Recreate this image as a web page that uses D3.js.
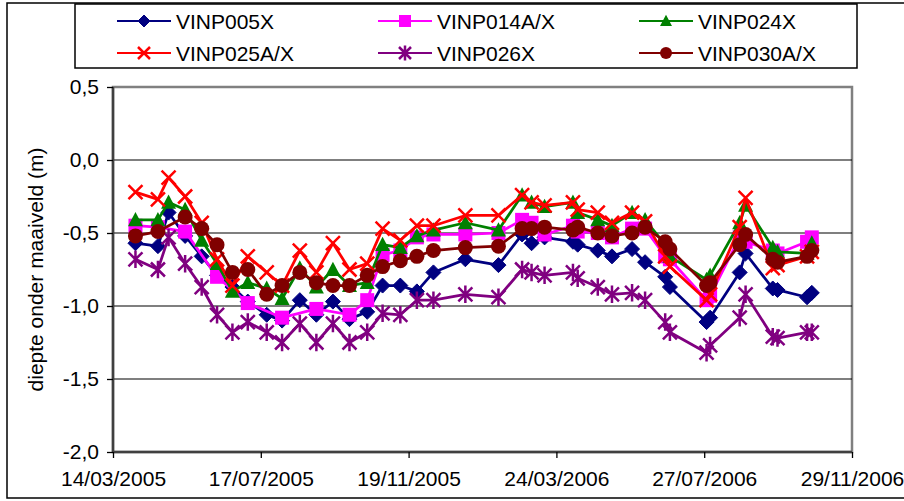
<!DOCTYPE html>
<html><head><meta charset="utf-8">
<script src="https://cdn.jsdelivr.net/npm/d3@7"></script>
<style>body{margin:0;background:#fff}svg{display:block}text{font-family:"Liberation Sans",Arial,sans-serif;fill:#000}</style>
</head><body><svg id="c" width="904" height="501"></svg>
<script>
// ---------- data ----------
const dates = ["2005-04-02","2005-04-21","2005-04-30","2005-05-14","2005-05-28","2005-06-10","2005-06-23","2005-07-06","2005-07-22","2005-08-04",
"2005-08-19","2005-09-02","2005-09-16","2005-09-30","2005-10-15","2005-10-28","2005-11-12","2005-11-26","2005-12-10","2006-01-06",
"2006-02-03","2006-02-23","2006-03-03","2006-03-14","2006-04-07","2006-04-11","2006-04-28","2006-05-10","2006-05-27","2006-06-07",
"2006-06-24","2006-06-28","2006-07-29","2006-08-01","2006-08-26","2006-08-31","2006-09-23","2006-09-27","2006-10-22","2006-10-26"];
const seriesNames = ["VINP005X","VINP014A/X","VINP024X","VINP025A/X","VINP026X","VINP030A/X"];
// null = not measured on that date
const vinp005x  = [-0.57,-0.59,-0.36,-0.52,-0.66,-0.79,-0.87,-0.97,-1.06,-1.10,-0.96,-1.06,-0.97,-1.09,-1.04,-0.86,-0.86,-0.90,-0.77,-0.68,-0.72,-0.51,-0.57,-0.53,-0.56,-0.58,-0.62,-0.66,-0.61,-0.70,-0.80,-0.87,-1.11,-1.08,-0.77,-0.64,-0.88,-0.89,-0.94,-0.91];
const vinp014ax = [-0.45,-0.46,null,-0.49,null,-0.80,null,-0.98,null,-1.08,null,-1.02,null,-1.06,-0.96,-0.65,-0.62,-0.53,-0.51,-0.51,-0.50,-0.41,-0.43,-0.51,-0.45,-0.49,-0.50,-0.53,-0.47,-0.47,-0.66,-0.68,-0.96,-0.93,-0.53,-0.56,-0.62,-0.64,-0.56,-0.53];
const vinp024x  = [-0.41,-0.41,-0.29,-0.34,-0.55,-0.71,-0.90,-0.84,-0.88,-0.95,-0.74,-0.87,-0.75,-0.86,-0.84,-0.58,-0.60,-0.52,-0.48,-0.43,-0.48,-0.24,-0.29,-0.32,-0.29,-0.36,-0.41,-0.45,-0.36,-0.41,-0.58,-0.66,-0.82,-0.79,-0.43,-0.31,-0.60,-0.63,-0.64,-0.57];
const vinp025ax = [-0.22,-0.27,-0.12,-0.25,-0.43,-0.68,-0.86,-0.66,-0.77,-0.86,-0.62,-0.77,-0.57,-0.75,-0.71,-0.47,-0.55,-0.45,-0.45,-0.38,-0.38,-0.24,-0.29,-0.31,-0.29,-0.34,-0.36,-0.43,-0.36,-0.42,-0.66,-0.73,-0.96,-0.92,-0.46,-0.26,-0.74,-0.72,-0.66,-0.63];
const vinp026x  = [-0.68,-0.75,-0.53,-0.71,-0.87,-1.06,-1.18,-1.11,-1.18,-1.25,-1.12,-1.25,-1.12,-1.25,-1.18,-1.05,-1.06,-0.96,-0.96,-0.92,-0.94,-0.75,-0.77,-0.79,-0.77,-0.81,-0.87,-0.92,-0.91,-0.96,-1.11,-1.18,-1.32,-1.27,-1.08,-0.92,-1.21,-1.22,-1.18,-1.18];
const vinp030ax = [-0.52,-0.49,null,-0.39,-0.47,-0.58,-0.77,-0.75,-0.92,-0.86,-0.77,-0.84,-0.86,-0.86,-0.79,-0.73,-0.69,-0.66,-0.62,-0.60,-0.59,-0.47,-0.47,-0.46,-0.48,-0.46,-0.50,-0.52,-0.50,-0.46,-0.56,-0.61,-0.86,-0.84,-0.58,-0.51,-0.68,-0.70,-0.66,-0.62];
const xTickLabels = ["14/03/2005","17/07/2005","19/11/2005","24/03/2006","27/07/2006","29/11/2006"];
const yTicks = [0.5,0.0,-0.5,-1.0,-1.5,-2.0];
const yTitle = "diepte onder maaiveld (m)";

// ---------- setup ----------
const colors = ["#000080","#FF00FF","#008000","#FF0000","#800080","#800000"];
const markers = ["diamond","square","triangle","x","star","circle"];
const values = [vinp005x,vinp014ax,vinp024x,vinp025ax,vinp026x,vinp030ax];
const parseISO = d3.utcParse("%Y-%m-%d");
const parseTick = d3.utcParse("%d/%m/%Y");
const tickDates = xTickLabels.map(parseTick);
const L = {left:113,right:852,top:87,bottom:452};
const x = d3.scaleUtc().domain([tickDates[0], tickDates[tickDates.length-1]]).range([L.left,L.right]);
const y = d3.scaleLinear().domain([-2,0.5]).range([L.bottom,L.top]);
const loc = d3.formatLocale({decimal:",",thousands:".",grouping:[3],currency:["€",""],minus:"-"});
const fmt = loc.format(".1f");

const svg = d3.select("#c");
const FS = 21;

// outer border
svg.append("rect").attr("x",7).attr("y",3).attr("width",920).attr("height",495)
  .attr("fill","none").attr("stroke","#000").attr("stroke-width",1.5);

// plot area border
svg.append("rect").attr("x",L.left).attr("y",L.top).attr("width",L.right-L.left).attr("height",L.bottom-L.top)
  .attr("fill","#fff").attr("stroke","#808080").attr("stroke-width",2.5);

// gridlines
svg.append("g").selectAll("line").data(yTicks.filter(v=>v<0.5 && v>-2)).join("line")
  .attr("x1",L.left).attr("x2",L.right).attr("y1",d=>y(d)).attr("y2",d=>y(d))
  .attr("stroke","#000").attr("stroke-width",1.2);

// axes
const yAxis = d3.axisLeft(y).tickValues(yTicks).tickFormat(fmt).tickSize(6).tickPadding(8);
const gy = svg.append("g").attr("transform",`translate(${L.left},0)`).call(yAxis);
const xAxis = d3.axisBottom(x).tickValues(tickDates).tickFormat((d,i)=>xTickLabels[i]).tickSize(6).tickPadding(13);
const gx = svg.append("g").attr("transform",`translate(0,${L.bottom})`).call(xAxis);
[gx,gy].forEach(g=>{
  g.select(".domain").attr("stroke","#404040").attr("stroke-width",2.5);
  g.selectAll(".tick line").attr("stroke","#000").attr("stroke-width",1.3);
  g.selectAll(".tick text").attr("font-size",FS).attr("font-family","Liberation Sans, Arial, sans-serif").attr("fill","#000");
});
gy.select(".domain").attr("d",`M0,${L.top}V${L.bottom}`);
gx.select(".domain").attr("d",`M${L.left},0H${L.right}`);

// y title
svg.append("text").attr("transform",`translate(43,${(L.top+L.bottom)/2}) rotate(-90)`)
  .attr("text-anchor","middle").attr("font-size",FS).text(yTitle);

// marker drawing
function drawMarker(g, type, color, r){
  switch(type){
    case "diamond": g.append("path").attr("d",`M0,${-r}L${r},0L0,${r}L${-r},0Z`).attr("fill",color).attr("stroke",color).attr("stroke-width",1); break;
    case "square": g.append("rect").attr("x",-r).attr("y",-r).attr("width",2*r).attr("height",2*r).attr("fill",color); break;
    case "triangle": g.append("path").attr("d",`M0,${-r*1.05}L${r},${r*0.85}L${-r},${r*0.85}Z`).attr("fill",color); break;
    case "circle": g.append("circle").attr("r",r).attr("fill",color); break;
    case "x": g.append("path").attr("d",`M${-r},${-r}L${r},${r}M${-r},${r}L${r},${-r}`).attr("stroke",color).attr("stroke-width",2.5).attr("fill","none"); break;
    case "star": g.append("path").attr("d",`M${-r},${-r}L${r},${r}M${-r},${r}L${r},${-r}M0,${-r*1.25}V${r*1.25}`).attr("stroke",color).attr("stroke-width",2.5).attr("fill","none"); break;
  }
}
const mSize = {diamond:7.5,square:7,triangle:7.5,circle:7.5,x:7,star:7};

// series
const line = d3.line().x(d=>x(d.date)).y(d=>y(d.v));
values.forEach((vals,si)=>{
  const pts = vals.map((v,i)=>({date:parseISO(dates[i]),v})).filter(p=>p.v!==null);
  const g = svg.append("g");
  g.append("path").datum(pts).attr("d",line).attr("fill","none").attr("stroke",colors[si]).attr("stroke-width",2.75).attr("stroke-linejoin","round");
  pts.forEach(p=>{
    const m = g.append("g").attr("transform",`translate(${x(p.date)},${y(p.v)})`);
    drawMarker(m, markers[si], colors[si], mSize[markers[si]]);
  });
});

// legend
svg.append("rect").attr("x",75).attr("y",4).attr("width",782).attr("height",64)
  .attr("fill","#fff").attr("stroke","#000").attr("stroke-width",1.5);
const legCols = [117,378,639], legRows = [21,53];
seriesNames.forEach((n,i)=>{
  const cx = legCols[i%3], cy = legRows[Math.floor(i/3)];
  const g = svg.append("g").attr("transform",`translate(${cx},${cy})`);
  g.append("line").attr("x1",0).attr("x2",54).attr("stroke",colors[i]).attr("stroke-width",2.2);
  const m = g.append("g").attr("transform","translate(27,0)");
  drawMarker(m, markers[i], colors[i], 6);
  g.append("text").attr("x",59).attr("y",0).attr("dy","0.36em").attr("font-size",FS).text(n);
});
</script></body></html>
